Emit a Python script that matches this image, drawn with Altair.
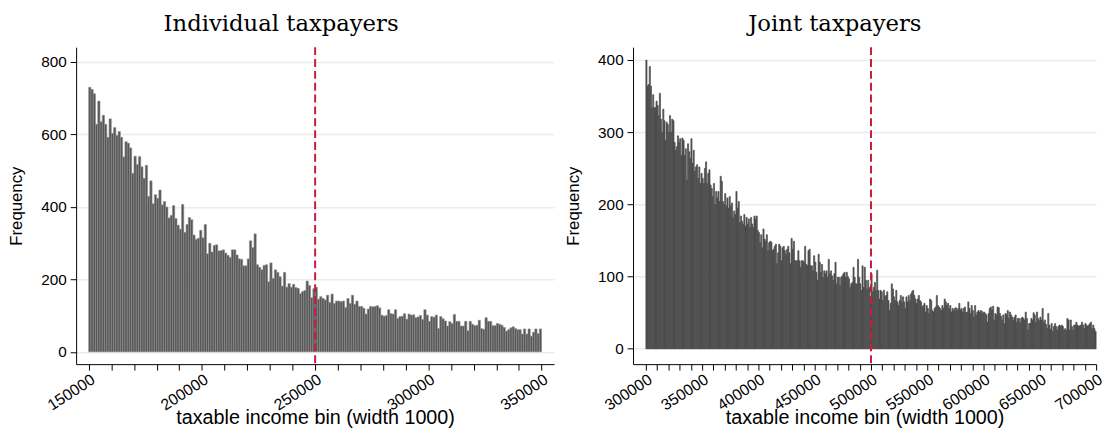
import altair as alt
import pandas as pd

# ---- data: individual taxpayers, bins of width 1000 from 150000 to 350000 ----
ind_a = [729,723,711,627,691,634,652,627,591,642,
         602,618,596,607,591,537,579,575,562,492,
         539,516,538,510,478,514,428,471,408,433,
         423,446,405,414,399,369,376,403,367,349,
         338,406,329,351,370,364,322,310,313,335,
         314,351,270,299,275,293,295,278,279,281,
         272,266]
ind_b = [260,281,281,267,256,255,237,237,256,306,
         287,325,240,233,226,238,240,193,245,202,
         226,219,207,181,219,178,188,178,186,177,
         175,160,166,169,195,183,149,174,178,145,
         152,147,143,156,136,159,133,140,140,138,
         140,122,147,133,156,131,140,125,125,120,
         104,118,125,124,125,127]
ind_c = [121,101,98,100,116,105,104,116,92,97,
         98,105,90,104,101,102,94,96,100,89,
         116,101,84,97,95,101,64,97,91,85,
         71,83,78,103,84,84,71,71,84,58,
         84,76,72,73,87,64,62,94,84,84,
         72,72,78,76,73,67,57,61,66,69,
         64,61,61,49,63,49,63,43,54,63,
         50,63]
ind_counts = ind_a + ind_b + ind_c
ind_lo = list(range(150000, 350000, 1000))

# ---- data: joint taxpayers, bins of width 1000 from 300000 to 700000 ----
joint_a = [400,364,366,391,364,334,352,334,334,343,
           337,323,354,318,300,332,316,289,314,311,
           300,323,300,318,316,286,275,280,295,286,
           291,268,292,289,268,277,234,284,273,264,
           291,257,275,246,252,255,236,252,229,243,
           236,229,250,259,229,243,248,227,222,211,
           229,200,218,209,218,204,239,232,204,200,
           215,198,209,195,211,198,202,182,191,186,
           218,195,204,175,184,177,173,186,170,182,
           173,180,168,182,173,168,184,180]
joint_b = [184,164,161,147,158,140,166,152,149,158,
           136,147,149,148,136,138,142,145,118,133,
           145,142,122,140,142,136,131,138,142,133,
           118,153,138,149,122,122,122,136,122,113,
           122,122,120,142,117,115,136,138,115,115,
           108,129,120,106,95,131,120,106,117,99,
           108,104,108,99,124,104,108,101,95,104,
           120,90,99,99,88,99,101,104,106,99,
           106,100,97,85,90,92,113,99,90,90,
           124,99,90,81,115,85,113,95,83,95,
           85,67]
joint_c = [104,79,85,92,81,109,81,69,81,79,
           67,81,72,74,79,67,53,63,90,83,
           72,67,81,65,60,67,74,65,72,65,
           56,72,65,74,67,76,79,81,74,69,
           63,69,74,67,65,58,60,63,51,60,
           56,49,69,67,53,51,56,58,74,60,
           58,56,53,60,56,69,65,60,63,56,
           60,51,56,53,56,57,53,56,63,54,
           56,51,56,58,50,51,65,56,49,60,
           53,44,60,47,51,53,51,53,52,49]
joint_d = [51,49,47,37,49,56,58,54,59,40,
           49,47,58,57,49,45,40,47,35,49,
           47,53,42,51,47,44,40,44,47,37,
           42,42,36,42,44,42,40,51,42,26,
           35,35,42,40,50,47,37,51,42,39,
           44,40,56,37,40,34,28,49,33,27,
           35,24,31,35,31,26,31,33,31,33,
           31,26,28,26,42,40,26,40,31,26,
           33,33,37,33,31,32,33,37,33,28,
           35,33,31,33,35,37,28,33,28,24]
joint_counts = joint_a + joint_b + joint_c + joint_d
joint_lo = list(range(300000, 700000, 1000))

ind_xticks = list(range(150000, 350001, 10000))
joint_xticks = list(range(300000, 700001, 10000))
ind_yticks = [0, 200, 400, 600, 800]
joint_yticks = [0, 100, 200, 300, 400]

BIN_WIDTH = 1000
RED = "#cc1a3f"
XTITLE = "taxable income bin (width 1000)"


def panel(lo, counts, xdom, ydom, xticks, yticks, cutoff, title, w, h,
          fill, stroke, sw):
    df = pd.DataFrame({"lo": lo, "hi": [v + BIN_WIDTH for v in lo], "n": counts})
    xscale = alt.Scale(domain=xdom, nice=False, zero=False)
    xaxis = alt.Axis(values=xticks, format="d",
                     labelExpr="datum.value % 50000 === 0 ? datum.label : ''",
                     labelAngle=-33, labelAlign="right", labelBaseline="top",
                     labelOverlap=False, labelBound=False, labelFlush=False,
                     labelFontSize=16, labelPadding=1, grid=False,
                     titleFontSize=20, titleY=60, titleBaseline="alphabetic")
    bars = alt.Chart(df).mark_bar(fill=fill, stroke=stroke, strokeWidth=sw).encode(
        x=alt.X("lo:Q", scale=xscale, axis=xaxis, title=XTITLE),
        x2="hi:Q",
        y=alt.Y("n:Q",
                scale=alt.Scale(domain=ydom, nice=False, zero=False),
                axis=alt.Axis(values=yticks, grid=True, labelFontSize=15.5,
                              labelPadding=4, titlePadding=15, titleFontSize=17),
                title="Frequency"),
        y2=alt.datum(0),
    )
    rule = alt.Chart(pd.DataFrame({"c": [cutoff]})).mark_rule(
        color=RED, strokeDash=[8, 4], strokeWidth=2
    ).encode(x=alt.X("c:Q", scale=xscale, axis=xaxis, title=XTITLE))
    return alt.layer(bars, rule).properties(
        width=w, height=h,
        title=alt.TitleParams(title, font="DejaVu Serif", fontSize=23,
                              fontWeight="normal", color="#000000",
                              anchor="middle", frame="bounds", offset=10),
    )


left = panel(ind_lo, ind_counts, [144460, 355500], [-34, 839.5],
             ind_xticks, ind_yticks, 250000, "Individual taxpayers",
             484, 321, "#555555", "#8f8f8f", 0.6)
right = panel(joint_lo, joint_counts, [288596, 700000], [-21.2, 417.8],
              joint_xticks, joint_yticks, 500000, "Joint taxpayers",
              469, 321, "#4d4d4d", "#4d4d4d", 0.7)

chart = alt.hconcat(left, right, spacing=11).properties(
    padding={"top": 3, "left": 0, "right": 0, "bottom": 0}, background="white"
).configure_view(stroke=None).configure_axis(
    domainColor="#000000", domainWidth=1, tickColor="#000000", tickSize=6,
    labelFont="Liberation Sans", labelColor="#000000",
    titleFont="Liberation Sans", titleFontWeight="normal",
    titleColor="#000000", gridColor="#e6eef0", gridWidth=1.5,
)

chart.save("out.html", embed_options={"renderer": "svg", "actions": False})
